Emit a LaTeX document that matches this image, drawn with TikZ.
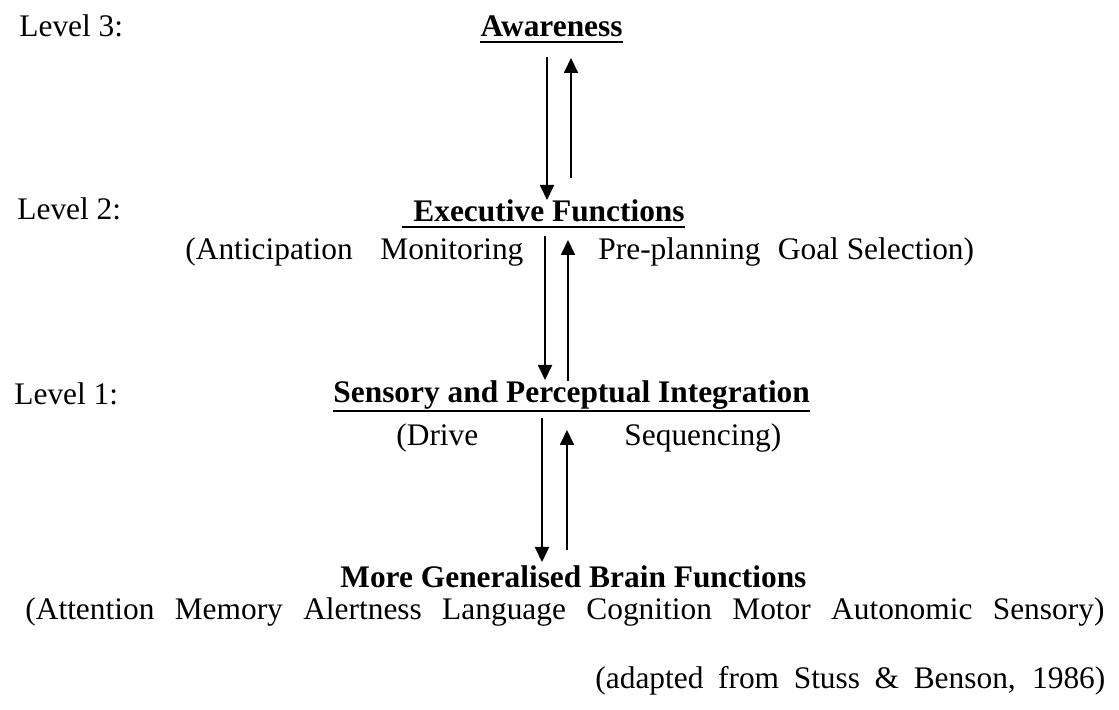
\documentclass[tikz,border=0pt]{standalone}
\usepackage{fontspec}
\setmainfont{Liberation Serif}
\usetikzlibrary{arrows.meta}
\begin{document}
\begin{tikzpicture}[x=0.5pt,y=-0.5pt,
  txt/.style={inner sep=0pt, font=\fontsize{15.7}{18}\selectfont},
  head/.style={inner sep=0pt, font=\fontsize{15.7}{18}\selectfont\bfseries},
  arr/.style={line width=0.9pt, -{Triangle[length=7.5pt,width=7pt]}},
  uline/.style={line width=1.2pt}]
\useasboundingbox (0,0) rectangle (1119,710);
% level labels
\node[txt, anchor=base west] (l3) at (19,37) {Level 3:};
\node[txt, anchor=base west] (l2) at (17,220) {Level 2:};
\node[txt, anchor=base west] (l1) at (14,405) {Level 1:};
% headings
\node[head, anchor=base east] (aw) at (623,37) {Awareness};
\node[head, anchor=base west] (ex) at (413,222) {Executive Functions};
\node[head, anchor=base west] (se) at (333,403) {Sensory and Perceptual Integration};
\node[head, anchor=base west] (mg) at (340,588) {More Generalised Brain Functions};
% underlines
\draw[uline] ([yshift=-2.5pt]aw.base west) -- ([yshift=-2.5pt]aw.base east);
\draw[uline] ([xshift=-5.5pt,yshift=-2.5pt]ex.base west) -- ([yshift=-2.5pt]ex.base east);
\draw[uline] ([yshift=-4pt]se.base west) -- ([yshift=-4pt]se.base east);
% sub lines
\node[txt, anchor=base west] (exa) at (185,260) {\makebox[169pt][s]{(Anticipation Monitoring}};
\node[txt, anchor=base west] (exb) at (598,260) {Pre-planning\hspace{0.55em}Goal Selection)};
\node[txt, anchor=base west] (sea) at (396,446) {(Drive};
\node[txt, anchor=base west] (seb) at (624,446) {Sequencing)};
\node[txt, anchor=base west] (mga) at (25,620) {\makebox[539.5pt][s]{(Attention Memory Alertness Language Cognition Motor Autonomic Sensory)}};
\node[txt, anchor=base west] (src) at (595,689) {\makebox[255pt][s]{(adapted from Stuss \& Benson, 1986)}};
% arrow end points
\coordinate (d1s) at (547,57);  \coordinate (d1e) at (547,200);
\coordinate (u1s) at (571,178); \coordinate (u1e) at (571,58);
\coordinate (d2s) at (545,236); \coordinate (d2e) at (545,380);
\coordinate (u2s) at (568,381); \coordinate (u2e) at (568,240);
\coordinate (d3s) at (542,418); \coordinate (d3e) at (542,562);
\coordinate (u3s) at (567,550); \coordinate (u3e) at (567,430);
\draw[arr] (d1s) -- (d1e);
\draw[arr] (u1s) -- (u1e);
\draw[arr] (d2s) -- (d2e);
\draw[arr] (u2s) -- (u2e);
\draw[arr] (d3s) -- (d3e);
\draw[arr] (u3s) -- (u3e);
\end{tikzpicture}
\end{document}
